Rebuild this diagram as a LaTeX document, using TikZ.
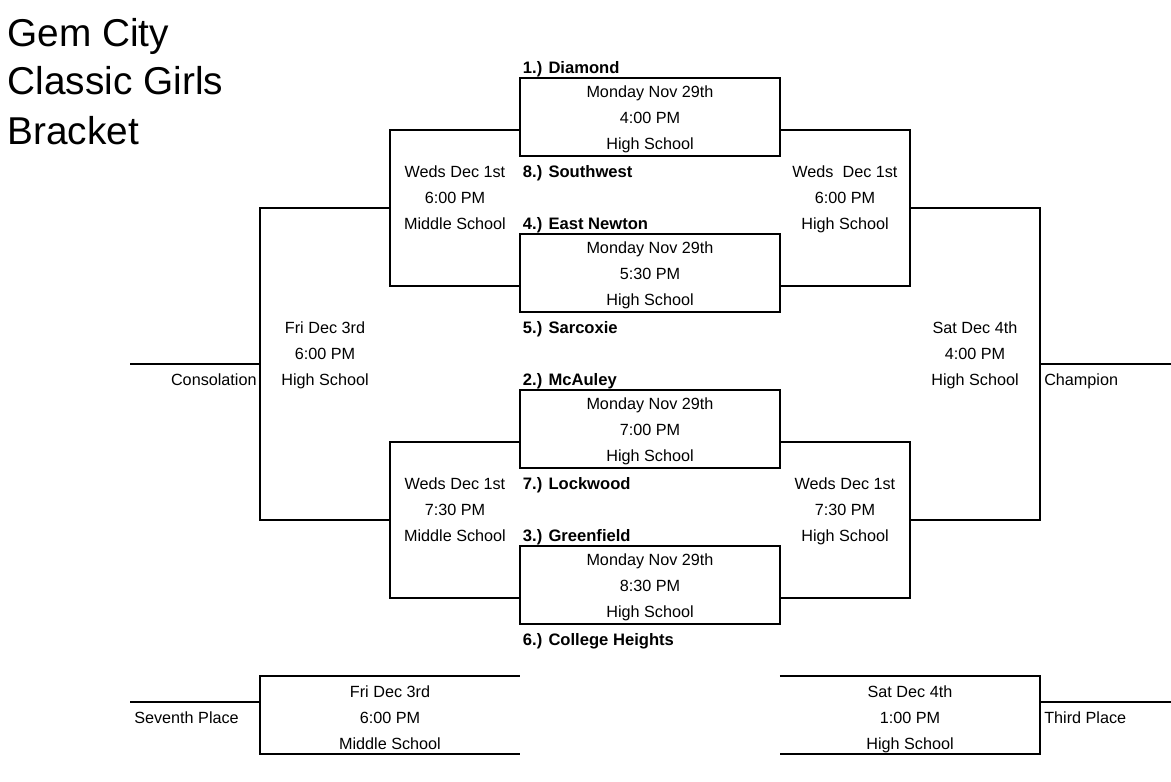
\documentclass[tikz,border=0pt]{standalone}
\usepackage{fontspec}
\setmainfont{Liberation Sans}
\usetikzlibrary{positioning}
\usetikzlibrary{calc}
\tikzset{
  % A first-round game: a closed box, two columns wide and three rows high
  gamebox/.style={
    draw=black, line width=0.55pt, rectangle, inner sep=0pt, outer sep=0pt,
    minimum width=130pt, minimum height=39pt},
  % Bracket lines between the rounds
  bracket/.style={draw=black, line width=0.55pt},
  % Date, time and site of a game, set on a row's baseline
  info/.style={anchor=base, inner sep=0pt, font=\fontsize{8.1}{9.7}\selectfont},
  % A seeded team, bold, flush left in its cell
  team/.style={anchor=base west, inner sep=0pt, font=\fontsize{8.3}{10}\selectfont\bfseries},
  % Labels beside the outer lines
  place/.style={inner sep=0pt, font=\fontsize{8.1}{9.7}\selectfont},
  heading/.style={anchor=base west, inner sep=0pt, font=\fontsize{19.4}{23}\selectfont},
}
\newcommand{\gameinfo}[6]{%
  \node[info] (#1d) at (#2,#3) {#4};
  \node[info] (#1t) at (#2,#3+1) {#5};
  \node[info] (#1s) at (#2,#3+2) {#6};}

\begin{document}
\begin{tikzpicture}[x=65pt, y=-13pt]
  \useasboundingbox (0,0) rectangle (9.008,30.04);

  % title
  \node[heading] (ttl1) at (0.055,1.79) {Gem City};
  \node[heading] (ttl2) at (0.055,3.63) {Classic Girls};
  \node[heading] (ttl3) at (0.055,5.54) {Bracket};

  % first round
  \node[gamebox] (m1) at (5,4.5) {};
  \node[gamebox] (m2) at (5,10.5) {};
  \node[gamebox] (m3) at (5,16.5) {};
  \node[gamebox] (m4) at (5,22.5) {};
  \gameinfo{m1}{5}{3.74}{Monday Nov 29th}{4:00 PM}{High School}
  \gameinfo{m2}{5}{9.74}{Monday Nov 29th}{5:30 PM}{High School}
  \gameinfo{m3}{5}{15.74}{Monday Nov 29th}{7:00 PM}{High School}
  \gameinfo{m4}{5}{21.74}{Monday Nov 29th}{8:30 PM}{High School}

  \node[team] (s1) at (4.02,2.82) {1.) Diamond};
  \node[team] (s8) at (4.02,6.82) {8.) Southwest};
  \node[team] (s4) at (4.02,8.82) {4.) East Newton};
  \node[team] (s5) at (4.02,12.82) {5.) Sarcoxie};
  \node[team] (s2) at (4.02,14.82) {2.) McAuley};
  \node[team] (s7) at (4.02,18.82) {7.) Lockwood};
  \node[team] (s3) at (4.02,20.82) {3.) Greenfield};
  \node[team] (s6) at (4.02,24.82) {6.) College Heights};

  % second round
  \draw[bracket] ([yshift=13pt]m1.south west) -- ++(-1,0) coordinate (wl1) |- ([yshift=13pt]m2.south west);
  \draw[bracket] ([yshift=13pt]m1.south east) -- ++(1,0) coordinate (wr1) |- ([yshift=13pt]m2.south east);
  \draw[bracket] ([yshift=13pt]m3.south west) -- ++(-1,0) coordinate (wl2) |- ([yshift=13pt]m4.south west);
  \draw[bracket] ([yshift=13pt]m3.south east) -- ++(1,0) coordinate (wr2) |- ([yshift=13pt]m4.south east);
  \gameinfo{ql1}{3.5}{6.82}{Weds Dec 1st}{6:00 PM}{Middle School}
  \gameinfo{qr1}{6.5}{6.82}{Weds\ \ Dec 1st}{6:00 PM}{High School}
  \gameinfo{ql2}{3.5}{18.82}{Weds Dec 1st}{7:30 PM}{Middle School}
  \gameinfo{qr2}{6.5}{18.82}{Weds Dec 1st}{7:30 PM}{High School}

  % consolation and championship
  \draw[bracket] ($(wl1)+(0,3)$) -- ++(-1,0) coordinate (cl) |- ($(wl2)+(0,3)$);
  \draw[bracket] ($(wr1)+(0,3)$) -- ++(1,0) coordinate (cr) |- ($(wr2)+(0,3)$);
  \draw[bracket] ($(cl)+(0,6)$) -- ++(-1,0) coordinate (clend);
  \draw[bracket] ($(cr)+(0,6)$) -- ++(1.008,0) coordinate (crend);
  \gameinfo{cs}{2.5}{12.82}{Fri Dec 3rd}{6:00 PM}{High School}
  \gameinfo{ch}{7.5}{12.82}{Sat Dec 4th}{4:00 PM}{High School}
  \node[place, anchor=base east] (cons) at (1.977,14.82) {Consolation};
  \node[place, anchor=base west] (champ) at (8.03,14.82) {Champion};

  % seventh and third place
  \coordinate (sv) at (4,26);
  \draw[bracket] (sv) -- ++(-2,0) coordinate (svc) -- ++(0,3) -- ++(2,0);
  \draw[bracket] ($(svc)+(0,1)$) -- ++(-1,0) coordinate (svend);
  \coordinate (tp) at (6,26);
  \draw[bracket] (tp) -- ++(2,0) coordinate (tpc) -- ++(0,3) -- ++(-2,0);
  \draw[bracket] ($(tpc)+(0,1)$) -- ++(1.008,0) coordinate (tpend);
  \gameinfo{sv}{3}{26.82}{Fri Dec 3rd}{6:00 PM}{Middle School}
  \gameinfo{tp}{7}{26.82}{Sat Dec 4th}{1:00 PM}{High School}
  \node[place, anchor=base west] (sev) at (1.03,27.82) {Seventh Place};
  \node[place, anchor=base west] (third) at (8.03,27.82) {Third Place};

\end{tikzpicture}
\end{document}
